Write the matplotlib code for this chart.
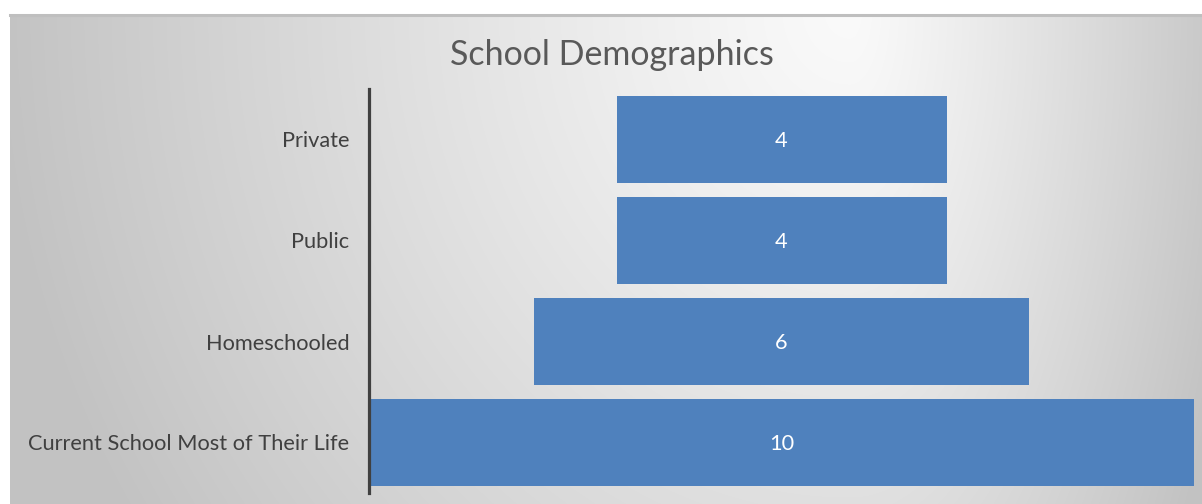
import numpy as np
import matplotlib
matplotlib.use("Agg")
import matplotlib.pyplot as plt

categories = ["Current School Most of Their Life", "Homeschooled", "Public", "Private"]
values = [10, 6, 4, 4]
title = "School Demographics"

W, H = 1202, 504
fig = plt.figure(figsize=(W / 100, H / 100), dpi=100)
fig.patch.set_facecolor("white")
FONT = "Lato"

# background gradient panel (chart area)
x0, y0 = 10, 15  # pixel left / top of chart area
bg = fig.add_axes([x0 / W, 0, 1 - x0 / W, (H - y0) / H])
bg.set_axis_off()
xs = np.arange(x0, W) + 0.5
ys = np.arange(y0, H) + 0.5
X, Y = np.meshgrid(xs, ys)
cx, cy = 850, 10
dx = X - cx
ax_scale = np.where(dx < 0, 860, 400)
t = np.sqrt((dx / ax_scale) ** 2 + ((Y - cy) / 950) ** 2)
t = np.clip(t, 0, 1) ** 1.15
c0, c1 = 250, 194
img = (c0 + (c1 - c0) * t) / 255.0
bg.imshow(np.dstack([img, img, img]), aspect="auto", extent=[0, 1, 0, 1],
          interpolation="bilinear")
bg.set_xlim(0, 1)
bg.set_ylim(0, 1)
# top border line
fig.add_artist(plt.Line2D([x0 / W, 1], [1 - 14.5 / H, 1 - 14.5 / H],
                          color="#bfbfbf", lw=2.2, transform=fig.transFigure))

# main axes
L, R, T, B = 369, 1194, 89, 493
ax = fig.add_axes([L / W, (H - B) / H, (R - L) / W, (B - T) / H])
ax.patch.set_alpha(0)
ypos = np.arange(len(categories))
vals = np.array(values, dtype=float)
ax.barh(ypos, vals, left=-vals / 2, height=0.86, color="#4f81bd")
ax.set_xlim(-5, 5)
ax.set_ylim(-0.5, len(categories) - 0.5)
for s in ["top", "right", "bottom"]:
    ax.spines[s].set_visible(False)
ax.spines["left"].set_color("#404040")
ax.spines["left"].set_linewidth(2.3)
ax.set_xticks([])
ax.set_yticks(ypos)
ax.set_yticklabels(categories)
ax.tick_params(axis="y", length=0, pad=14, labelcolor="#404040")

fig.canvas.draw()
renderer = fig.canvas.get_renderer()

def fit_size(text, target, family=FONT):
    t0 = fig.text(0, 0, text, fontsize=10, family=family)
    w = t0.get_window_extent(renderer).width
    t0.remove()
    return 10 * target / w

lab_size = fit_size(categories[0], 321)
for lbl in ax.get_yticklabels():
    lbl.set_fontsize(lab_size)
    lbl.set_family(FONT)

for yp, v in zip(ypos, values):
    ax.text(0, yp - 0.015, f"{v}", ha="center", va="center", color="white",
            fontsize=lab_size, family=FONT)

tsize = fit_size(title, 325)
fig.text(611.5 / W, 1 - 55 / H, title, ha="center", va="center",
         fontsize=tsize, color="#595959", family=FONT)

fig.savefig("out.png", dpi=100, facecolor="white")
